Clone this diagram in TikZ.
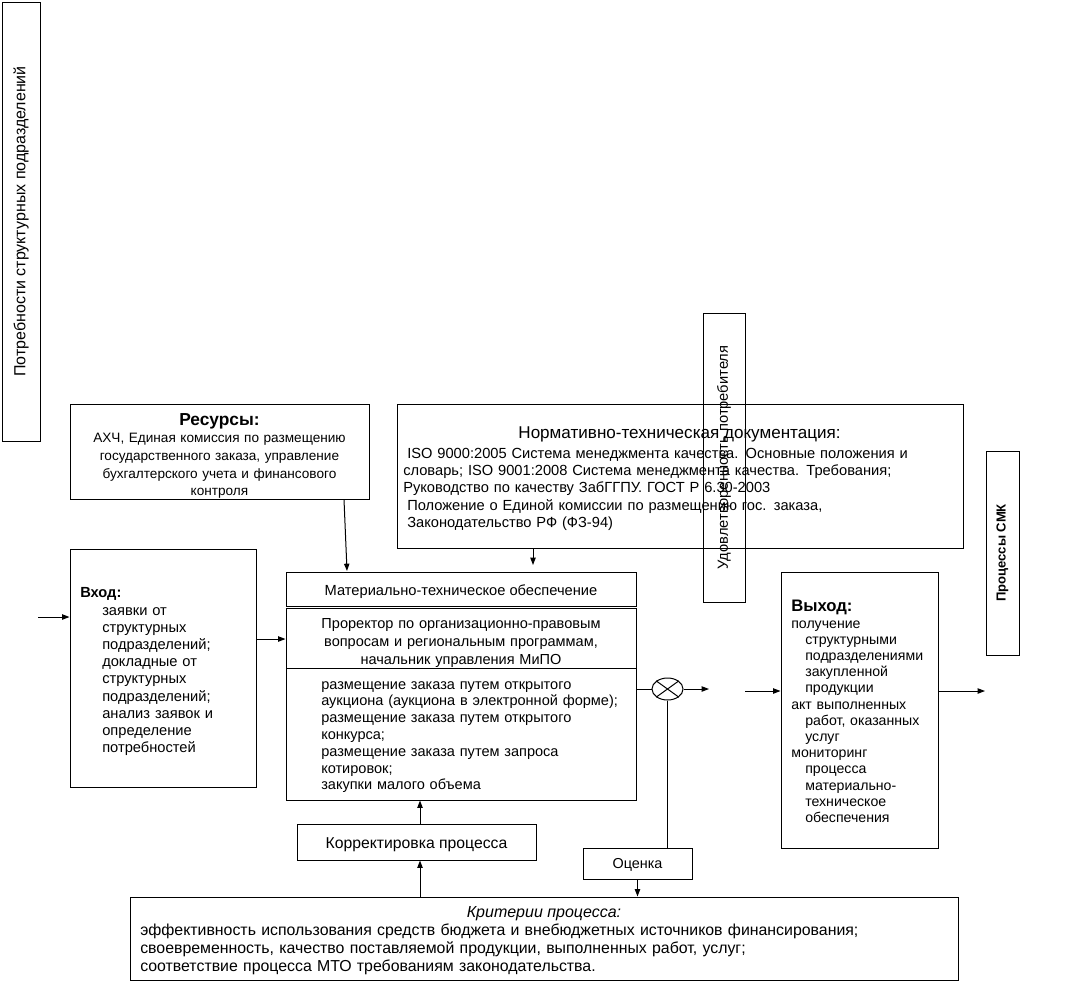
\documentclass[tikz,border=0pt]{standalone}
\usepackage{fontspec}
\setmainfont{Liberation Sans}
\usetikzlibrary{arrows.meta,fit,shapes.geometric}
\begin{document}
\begin{tikzpicture}[x=0.75pt,y=-0.75pt,
  box/.style={draw, line width=0.75pt, inner sep=0pt},
  arr/.style={line width=0.75pt, -{Triangle[length=5.5pt,width=4pt]}},
  ln/.style={line width=0.75pt},
  txt/.style={inner sep=0pt, font=\fontsize{11}{13}\selectfont},
]
\fill[white] (0,0) rectangle (1066,982);
\useasboundingbox (0,0) rectangle (1066,982);

% boxes
\node[box, fit={(2,2)(40,441)}] (need) {};
\node[box, fit={(70,404)(369,499)}] (res) {};
\node[box, fit={(397,404)(963,548)}] (norm) {};
\node[box, fit={(70,549)(256,787)}] (inp) {};
\node[box, fit={(286,572)(636,606)}] (mto) {};
\node[box, fit={(286,608)(636,668)}] (pro) {};
\node[box, fit={(286,668)(636,800)}] (act) {};
\node[box, fit={(781,572)(938,848)}] (out) {};
\node[box, fit={(986,451)(1019,655)}] (smk) {};
\node[box, fit={(297,824)(536,860)}] (korr) {};
\node[box, fit={(583,848)(692,879)}] (ocen) {};
\node[box, fit={(130,897)(958,980)}] (crit) {};
\node[box, fit={(703,313)(745,602)}] (udov) {};
\node[draw, line width=0.75pt, ellipse, minimum width=23.25pt, minimum height=16.5pt, inner sep=0pt] (cx) at (667.5,689) {};
\draw[ln] (cx.north west) -- (cx.south east);
\draw[ln] (cx.north east) -- (cx.south west);

% texts
\node[txt, rotate=90, font=\fontsize{12}{14}\selectfont] (needtxt) at (need.center) {Потребности структурных подразделений};
\node[txt, rotate=90, font=\fontsize{11}{13}\selectfont] (udovtxt) at (udov.center) {Удовлетворенность потребителя};
\node[txt, rotate=90, font=\fontsize{9.8}{12}\selectfont\bfseries] (smktxt) at (smk.center) {Процессы СМК};

\node[txt, text width=220pt, align=center, anchor=base, font=\fontsize{10.2}{13.3}\selectfont] (restxt) at (219.5,425)
 {{\fontsize{13}{13.5}\selectfont\bfseries Ресурсы:}\\АХЧ, Единая комиссия по размещению\\государственного заказа, управление\\бухгалтерского учета и финансового\\контроля};

\node[txt, anchor=base, font=\fontsize{12.8}{14}\selectfont] (normtitle) at (679.5,438) {Нормативно-техническая документация:};
\node[txt, text width=400pt, align=left, anchor=base west, font=\fontsize{11}{13.1}\selectfont] (normtxt) at (403,458)
 {\hspace*{3pt}ISO 9000:2005 Система менеджмента качества. Основные положения и\\
 словарь; ISO 9001:2008 Система менеджмента качества. Требования;\\
 Руководство по качеству ЗабГГПУ. ГОСТ Р 6.30-2003\\
 \hspace*{3pt}Положение о Единой комиссии по размещению гос. заказа,\\
 \hspace*{3pt}Законодательство РФ (ФЗ-94)};

\node[txt, anchor=base west, font=\fontsize{11}{13}\selectfont\bfseries] (intitle) at (80,597) {Вход:};
\node[txt, text width=120pt, align=left, anchor=base west, font=\fontsize{11}{12.9}\selectfont] (intxt) at (102,615)
 {заявки от\\структурных\\подразделений;\\докладные от\\структурных\\подразделений;\\анализ заявок и\\определение\\потребностей};

\node[txt, anchor=base, font=\fontsize{11}{13}\selectfont] (mtotxt) at (461,595) {Материально-техническое обеспечение};
\node[txt, text width=260pt, align=center, anchor=base, font=\fontsize{10.9}{13.5}\selectfont] (protxt) at (461,628)
 {Проректор по организационно-правовым\\вопросам и региональным программам,\\начальник управления МиПО};
\node[txt, text width=260pt, align=left, anchor=base west, font=\fontsize{10.9}{12.6}\selectfont] (acttxt) at (321,689)
 {размещение заказа путем открытого\\аукциона (аукциона в электронной форме);\\размещение заказа путем открытого\\конкурса;\\размещение заказа путем запроса\\котировок;\\закупки малого объема};

\node[txt, anchor=base west, font=\fontsize{12.5}{13}\selectfont\bfseries] (outtitle) at (791,611) {Выход:};
\node[txt, text width=120pt, align=left, anchor=base west, font=\fontsize{10.6}{12.15}\selectfont] (outtxt) at (791,628)
 {получение\\\hspace*{10.5pt}структурными\\\hspace*{10.5pt}подразделениями\\\hspace*{10.5pt}закупленной\\\hspace*{10.5pt}продукции\\
 акт выполненных\\\hspace*{10.5pt}работ, оказанных\\\hspace*{10.5pt}услуг\\
 мониторинг\\\hspace*{10.5pt}процесса\\\hspace*{10.5pt}материально-\\\hspace*{10.5pt}техническое\\\hspace*{10.5pt}обеспечения};

\node[txt, anchor=base, font=\fontsize{11.8}{13}\selectfont] (korrtxt) at (416.5,848) {Корректировка процесса};
\node[txt, anchor=base, font=\fontsize{10.8}{13}\selectfont] (ocentxt) at (637.5,868) {Оценка};

\node[txt, anchor=base, font=\fontsize{12}{13}\selectfont\itshape] (crittitle) at (544,917) {Критерии процесса:};
\node[txt, text width=700pt, align=left, anchor=base west, font=\fontsize{11.9}{13.5}\selectfont] (crittxt) at (140,935)
 {эффективность использования средств бюджета и внебюджетных источников финансирования;\\
 своевременность, качество поставляемой продукции, выполненных работ, услуг;\\
 соответствие процесса МТО требованиям законодательства.};

% helper coordinates
\coordinate (inStart) at (38,617);
\coordinate (y639) at (0,639);
\coordinate (x344) at (344,0);
\coordinate (resEnd) at (347,571);
\coordinate (x533) at (533,0);
\coordinate (normEnd) at (533,565);
\coordinate (cxEnd) at (709,689);
\coordinate (outStart) at (745,691);
\coordinate (outEnd) at (985,691);
\coordinate (x420) at (420,0);

% connectors
\draw[arr] (inStart) -- (inp.west |- inStart);
\draw[arr] (inp.east |- y639) -- (pro.west |- y639);
\draw[arr] (res.south -| x344) -- (resEnd);
\draw[arr] (norm.south -| x533) -- (normEnd);
\draw[ln] (act.east |- cx.west) -- (cx.west);
\draw[arr] (cx.east) -- (cxEnd);
\draw[arr] (outStart) -- (out.west |- outStart);
\draw[arr] (out.east |- outEnd) -- (outEnd);
\draw[ln] (cx.south) -- (cx.south |- ocen.north);
\draw[arr] (ocen.south) -- (ocen.south |- crit.north);
\draw[arr] (crit.north -| x420) -- (korr.south -| x420);
\draw[arr] (korr.north -| x420) -- (act.south -| x420);
\end{tikzpicture}
\end{document}
